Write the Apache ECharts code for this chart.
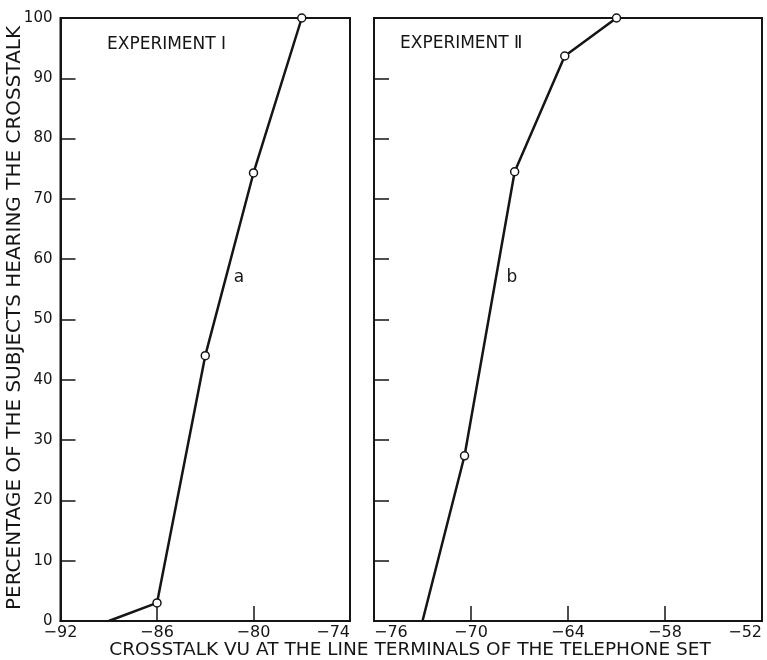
<!DOCTYPE html>
<html>
<head>
<meta charset="utf-8">
<script src="https://cdn.jsdelivr.net/npm/echarts@6/dist/echarts.min.js"></script>
<style>
  html, body { margin: 0; padding: 0; background: #fff; }
  #chart { width: 767px; height: 660px; }
</style>
</head>
<body>
<div id="chart"></div>
<script>
// Experiment I: crosstalk level (VU) vs. percentage of subjects hearing it
const expIVu = [-89, -86, -83, -80, -77];
const expIPct = [0, 3, 44, 74.3, 100];
// Experiment II
const expIIVu = [-73, -70.4, -67.3, -64.2, -61];
const expIIPct = [0, 27.4, 74.5, 93.7, 100];

const yTicks = [10, 20, 30, 40, 50, 60, 70, 80, 90];
const xLabelsI = [-92, -86, -80, -74];
const xTicksI = [-86, -80];
const xLabelsII = [-76, -70, -64, -58, -52];
const xTicksII = [-70, -64, -58];

const INK = '#151515';
const FONT = 'DejaVu Sans';

function pairs(xs, ys) {
  // first point of each curve is where it meets the axis: drawn without a marker
  return xs.map((x, i) => i === 0 ? { value: [x, ys[i]], symbol: 'none' } : [x, ys[i]]);
}

function xAxisFor(gridIndex, min, max, labels, ticks, alignMin, alignMax) {
  return {
    type: 'value', gridIndex, min, max,
    axisLine: { show: true, onZero: false, lineStyle: { color: INK, width: 2 } },
    axisTick: { show: true, inside: true, length: 15, customValues: ticks, lineStyle: { color: INK, width: 1.5 } },
    axisLabel: { customValues: labels, color: INK, fontFamily: FONT, fontSize: 16, margin: 4,
                 alignMinLabel: alignMin, alignMaxLabel: alignMax,
                 formatter: v => String(v).replace('-', '\u2212') },
    splitLine: { show: false }
  };
}

function yAxisFor(gridIndex, showLabels) {
  return {
    type: 'value', gridIndex, min: 0, max: 100, interval: 10,
    axisLine: { show: true, lineStyle: { color: INK, width: 2 } },
    axisTick: { show: true, inside: true, length: 15, customValues: yTicks, lineStyle: { color: INK, width: 1.5 } },
    axisLabel: { show: showLabels, color: INK, fontFamily: FONT, fontSize: 15, margin: 8 },
    splitLine: { show: false }
  };
}

const lineStyle = { color: INK, width: 2.5 };
const itemStyle = { color: '#fff', borderColor: INK, borderWidth: 1.5 };

const chart = echarts.init(document.getElementById('chart'));
chart.setOption({
  backgroundColor: '#fff',
  animation: false,
  grid: [
    { left: 60.5, top: 18, width: 289.5, height: 603, show: true, borderColor: INK, borderWidth: 2 },
    { left: 374, top: 18, width: 388, height: 603, show: true, borderColor: INK, borderWidth: 2 }
  ],
  xAxis: [
    xAxisFor(0, -92, -74, xLabelsI, xTicksI, 'center', 'right'),
    xAxisFor(1, -76, -52, xLabelsII, xTicksII, 'left', 'right')
  ],
  yAxis: [yAxisFor(0, true), yAxisFor(1, false)],
  series: [
    { type: 'line', xAxisIndex: 0, yAxisIndex: 0, data: pairs(expIVu, expIPct),
      symbol: 'circle', symbolSize: 8, lineStyle, itemStyle, z: 3 },
    { type: 'line', xAxisIndex: 1, yAxisIndex: 1, data: pairs(expIIVu, expIIPct),
      symbol: 'circle', symbolSize: 8, lineStyle, itemStyle, z: 3 }
  ],
  graphic: [
    { type: 'text', left: 107, top: 36, style: { text: 'EXPERIMENT \u2160', fill: INK, font: '17px "DejaVu Sans"' } },
    { type: 'text', left: 400, top: 35, style: { text: 'EXPERIMENT \u2161', fill: INK, font: '17px "DejaVu Sans"' } },
    { type: 'text', x: 239, y: 278, style: { text: 'a', fill: INK, font: '17px "DejaVu Sans"', align: 'center', verticalAlign: 'middle' } },
    { type: 'text', x: 512, y: 278, style: { text: 'b', fill: INK, font: '17px "DejaVu Sans"', align: 'center', verticalAlign: 'middle' } },
    { type: 'text', x: 410, y: 650, style: { text: 'CROSSTALK VU AT THE LINE TERMINALS OF THE TELEPHONE SET', fill: INK,
      font: '18.5px "DejaVu Sans"', align: 'center', verticalAlign: 'middle' } },
    { type: 'text', x: 15, y: 318, rotation: Math.PI / 2, style: { text: 'PERCENTAGE OF THE SUBJECTS HEARING THE CROSSTALK', fill: INK,
      font: '20px "DejaVu Sans"', align: 'center', verticalAlign: 'middle' } }
  ]
});
</script>
</body>
</html>
